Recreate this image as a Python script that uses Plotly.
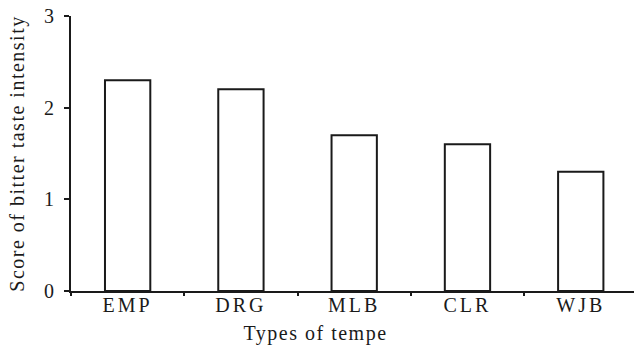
import plotly.graph_objects as go

categories = ["EMP", "DRG", "MLB", "CLR", "WJB"]
scores = [2.3, 2.2, 1.7, 1.6, 1.3]
y_ticks = [0, 1, 2, 3]
x_title = "Types of tempe"
y_title = "Score of bitter taste intensity"

font_family = "Liberation Serif, Times New Roman, serif"
ink = "#1a1a1a"

fig = go.Figure(
    go.Bar(
        x=categories,
        y=scores,
        width=0.4,
        marker=dict(color="white", line=dict(color=ink, width=2)),
    )
)

fig.update_layout(
    width=635,
    height=345,
    margin=dict(l=71, r=1, t=16, b=54),
    paper_bgcolor="white",
    plot_bgcolor="white",
    showlegend=False,
    font=dict(family=font_family, size=20, color=ink),
)

fig.update_xaxes(
    type="category",
    range=[-0.5, 4.47],
    automargin=False,
    showline=True,
    linecolor=ink,
    linewidth=2,
    ticks="outside",
    tickson="boundaries",
    ticklen=3,
    tickwidth=2,
    tickcolor=ink,
    ticklabelstandoff=-5,
    showgrid=False,
    tickfont=dict(size=20),
)

fig.add_annotation(
    text=x_title,
    xref="paper",
    yref="paper",
    x=(315 - 71) / 563,
    y=0,
    xanchor="center",
    yanchor="top",
    yshift=-29,
    showarrow=False,
    font=dict(size=20, family=font_family, color=ink),
)

fig.update_yaxes(
    range=[0, 3],
    tickvals=y_ticks,
    automargin=False,
    showline=True,
    linecolor=ink,
    linewidth=2,
    ticks="outside",
    ticklen=5,
    tickwidth=2,
    tickcolor=ink,
    ticklabelstandoff=6,
    showgrid=False,
    zeroline=False,
    title=dict(text=y_title, standoff=14, font=dict(size=20)),
    tickfont=dict(size=20),
)

post = """
document.body.style.margin = '0';
document.documentElement.style.overflow = 'hidden';
var gd = document.getElementById('{plot_id}');
function spaceText(){
  gd.querySelectorAll('.xtick text').forEach(function(t){t.style.letterSpacing='3px';});
  gd.querySelectorAll('.annotation-text').forEach(function(t){t.style.letterSpacing='1.5px';});
  gd.querySelectorAll('.ytitle').forEach(function(t){t.style.letterSpacing='1.5px';});
}
spaceText();
gd.on('plotly_afterplot', spaceText);
"""

fig.write_html("out.html", post_script=post, config={"displayModeBar": False})
